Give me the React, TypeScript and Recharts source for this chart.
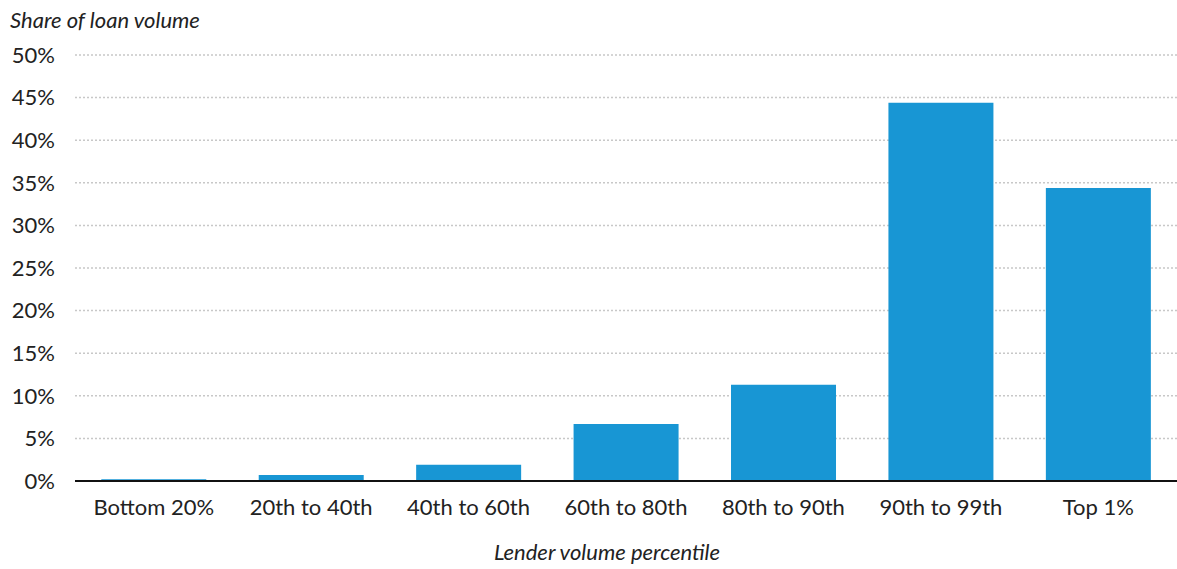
import { BarChart, Bar, XAxis, YAxis, CartesianGrid } from 'recharts'

const categories = ['Bottom 20%', '20th to 40th', '40th to 60th', '60th to 80th', '80th to 90th', '90th to 99th', 'Top 1%']
const shares = [0.2, 0.7, 1.9, 6.7, 11.3, 44.4, 34.4]
const yTicks = [0, 5, 10, 15, 20, 25, 30, 35, 40, 45, 50]

const font = 'Lato, "Open Sans", sans-serif'
const barColor = '#1896d4'

const data = categories.map((name, i) => ({ name, share: shares[i] }))

export default function App() {
  return (
    <div style={{ position: 'absolute', left: 0, top: 0, width: 1177, height: 569, background: '#fff', fontFamily: font }}>
      <div style={{ position: 'absolute', left: 10, top: 6, fontSize: 22, fontStyle: 'italic', color: '#222', lineHeight: '28px' }}>
        Share of loan volume
      </div>
      <BarChart width={1177} height={569} data={data} margin={{ top: 55, right: 0, left: 10, bottom: 18 }} barCategoryGap="16.7%">
        <CartesianGrid vertical={false} stroke="#c8c8c8" strokeDasharray="2 2" strokeWidth={1.5} />
        <YAxis
          type="number"
          domain={[0, 50]}
          ticks={yTicks}
          width={65}
          axisLine={false}
          tickLine={false}
          tickMargin={14}
          tickFormatter={(v) => `${v}%`}
          tick={{ fontSize: 22, fill: '#222', fontFamily: font }}
        />
        <XAxis
          dataKey="name"
          height={70}
          tickLine={false}
          axisLine={{ stroke: '#111', strokeWidth: 2 }}
          tickMargin={12}
          tick={{ fontSize: 22, fill: '#222', fontFamily: font }}
        />
        <Bar dataKey="share" fill={barColor} isAnimationActive={false} />
      </BarChart>
      <div style={{ position: 'absolute', left: 0, width: 1214, top: 538, textAlign: 'center', fontSize: 22, fontStyle: 'italic', color: '#222', lineHeight: '28px' }}>
        Lender volume percentile
      </div>
    </div>
  )
}
